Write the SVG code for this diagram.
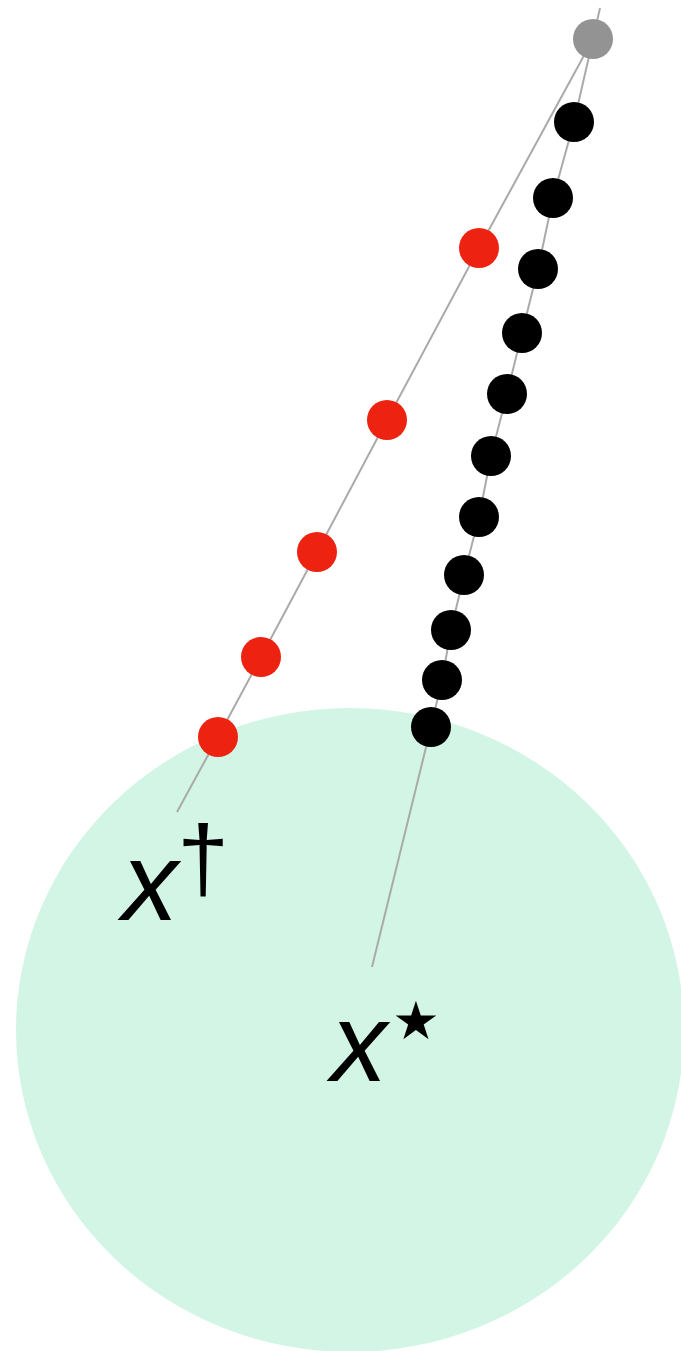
<svg xmlns="http://www.w3.org/2000/svg" width="681" height="1351" viewBox="0 0 681 1351">
<style>
.ln{stroke:#aaaaaa;stroke-width:2;fill:none}
.blk{fill:#000000}
.red{fill:#ee2211}
.lbl{font-family:"Liberation Sans",Arial,sans-serif;fill:#000}
</style>
<rect width="681" height="1351" fill="#ffffff"/>
<g id="region">
<ellipse cx="350" cy="1030" rx="334" ry="322" fill="#d3f5e5"/>
</g>
<g id="connectors">
<polyline class="ln" points="600,8 593,39"/>
<polyline class="ln" points="593,39 479,248 387,420 317,552 261,657 218,737 177,812"/>
<polyline class="ln" points="593,39 574,122 553,198 538,269 522,333 507,394 491,456 479,517 464,575 451,630 442,680 431,727 372,967"/>
</g>
<g id="start"><circle cx="593" cy="39" r="20" fill="#939393"/></g>
<g id="red-points">
<circle class="red" cx="479" cy="248" r="20"/>
<circle class="red" cx="387" cy="420" r="20"/>
<circle class="red" cx="317" cy="552" r="20"/>
<circle class="red" cx="261" cy="657" r="20"/>
<circle class="red" cx="218" cy="737" r="20"/>
</g>
<g id="black-points">
<circle class="blk" cx="574" cy="122" r="20"/>
<circle class="blk" cx="553" cy="198" r="20"/>
<circle class="blk" cx="538" cy="269" r="20"/>
<circle class="blk" cx="522" cy="333" r="20"/>
<circle class="blk" cx="507" cy="394" r="20"/>
<circle class="blk" cx="491" cy="456" r="20"/>
<circle class="blk" cx="479" cy="517" r="20"/>
<circle class="blk" cx="464" cy="575" r="20"/>
<circle class="blk" cx="451" cy="630" r="20"/>
<circle class="blk" cx="442" cy="680" r="20"/>
<circle class="blk" cx="431" cy="727" r="20"/>
</g>
<g id="label-dagger">
<text class="lbl" x="122" y="920" font-size="112" font-style="italic">x</text>
<text class="lbl" x="203" y="890" font-size="93" text-anchor="middle">†</text>
</g>
<g id="label-star">
<text class="lbl" x="331" y="1081" font-size="112" font-style="italic">x</text>
<text x="416" y="1055" font-size="106" text-anchor="middle" style="font-family:'DejaVu Sans',sans-serif">⋆</text>
</g>
</svg>
